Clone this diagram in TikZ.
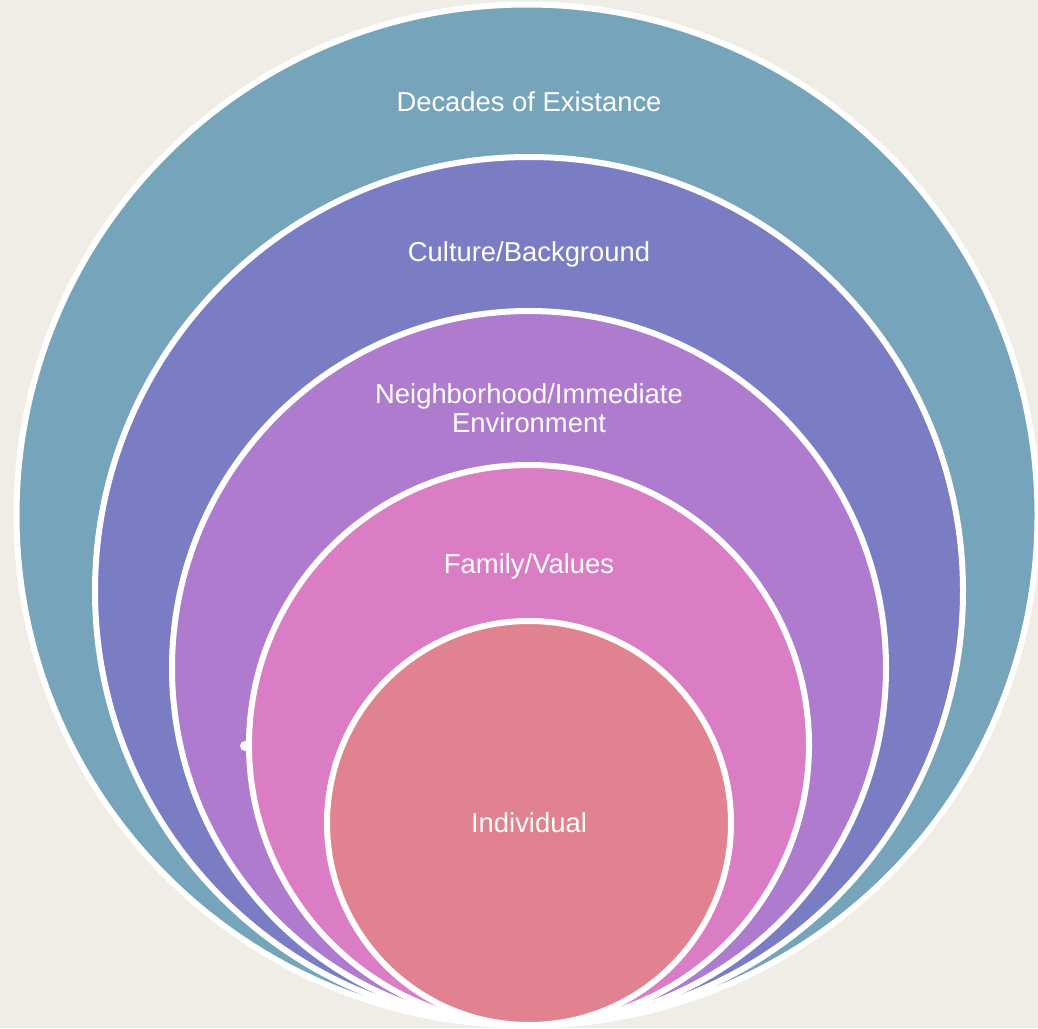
\documentclass[tikz,border=0pt]{standalone}
\usepackage{fontspec}
\setmainfont{Liberation Sans}
\usepackage{tikz}

\definecolor{bgcol}{HTML}{EFEDE6}
\definecolor{decadescol}{HTML}{76A4BB}
\definecolor{culturecol}{HTML}{7A7CC4}
\definecolor{neighbourcol}{HTML}{AE7BCE}
\definecolor{familycol}{HTML}{DA7DC4}
\definecolor{individualcol}{HTML}{E18291}

\tikzset{
  ring/.style={circle, draw=white, line width=3pt, inner sep=0pt},
  ringlabel/.style={text=white, font=\fontsize{13.7}{14.5}\selectfont, align=center}
}

\begin{document}
\begin{tikzpicture}[x=0.5pt,y=-0.5pt]
			% background
			\fill[bgcol] (0,0) rectangle (1038,1028);
			\useasboundingbox (0,0) rectangle (1038,1028);
			
			% draw circles, outer to inner, all touching at the bottom
			\node[ring, fill=decadescol, minimum size=1021*0.5pt] (decades) at (527,515) {};
			\node[ring, fill=culturecol, minimum size=868*0.5pt] (culture) at (529,591) {};
			\node[ring, fill=neighbourcol, minimum size=714*0.5pt] (neighbour) at (529,668) {};
			\node[ring, fill=familycol, minimum size=560*0.5pt] (family) at (529,745) {};
			\node[ring, fill=individualcol, minimum size=404*0.5pt] (individual) at (529,823) {};
			
			% small dot on the family circle
			\node[circle, fill=white, inner sep=0pt, minimum size=5pt] (dot) at (245,746) {};
			
			% draw labels
			\node[ringlabel] (decadeslabel) at (529,102) {Decades of Existance};
			\node[ringlabel] (culturelabel) at (529,254) {Culture/Background};
			\node[ringlabel] (neighbourlabel) at (529,408) {Neighborhood/Immediate\\Environment};
			\node[ringlabel] (familylabel) at (529,566) {Family/Values};
			\node[ringlabel] (individuallabel) at (529,823) {Individual};
\end{tikzpicture}
\end{document}
